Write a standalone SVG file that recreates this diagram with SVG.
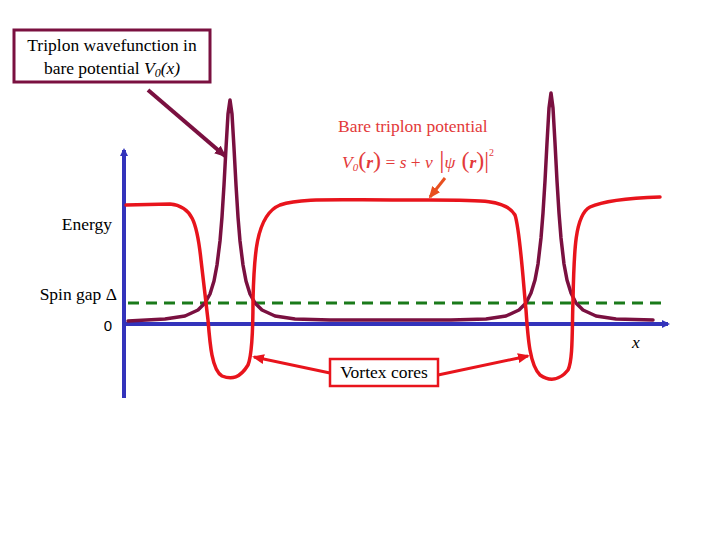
<svg xmlns="http://www.w3.org/2000/svg" width="720" height="540" viewBox="0 0 720 540">
<defs>
<style>
.t{font-family:"Liberation Serif",serif;font-size:17.5px}
.c{fill:none;stroke-width:3.5;stroke-linejoin:round;stroke-linecap:round}
</style>
<marker id="ab" markerWidth="8" markerHeight="8" refX="6" refY="4" orient="auto" markerUnits="userSpaceOnUse"><path d="M0,0 L8,4 L0,8z" fill="#3333bb"/></marker>
<marker id="ar" markerWidth="12" markerHeight="10" refX="10" refY="5" orient="auto" markerUnits="userSpaceOnUse"><path d="M0,0 L12,5 L0,10z" fill="#e8141c"/></marker>
<marker id="ap" markerWidth="12" markerHeight="10" refX="10" refY="5" orient="auto" markerUnits="userSpaceOnUse"><path d="M0,0 L12,5 L0,10z" fill="#7a1040"/></marker>
<marker id="ao" markerWidth="12" markerHeight="10" refX="10" refY="5" orient="auto" markerUnits="userSpaceOnUse"><path d="M0,0 L12,5 L0,10z" fill="#e85020"/></marker>
</defs>
<rect width="720" height="540" fill="#fff"/>
<g id="connectors">
<line x1="124" y1="398" x2="124" y2="150" stroke="#3333bb" stroke-width="4" marker-end="url(#ab)"/>
<line x1="124" y1="324" x2="668" y2="324" stroke="#3333bb" stroke-width="4" marker-end="url(#ab)"/>
<line x1="128" y1="303" x2="665" y2="303" stroke="#1a7a1a" stroke-width="3" stroke-dasharray="11,7"/>
<polyline class="c" stroke="#7a1040" points="128,321 165,319 185,316 198,310 205,303 210,294 214,281 217,265 220,241 222,217 224,185 226,148 228,114 230,100 232,114 234,148 236,185 238,217 240,241 243,265 246,281 250,294 255,303 262,310 275,316 295,319 330,320 451,320 486,319 506,316 519,310 526,303 531,293 535,280 538,264 541,238 543,213 545,181 547,143 549,108 551,93 553,108 555,143 557,181 559,213 561,238 564,264 567,280 571,293 576,303 583,310 596,316 616,319 653,320"/>
<path class="c" stroke="#e8141c" d="M126,205 L170,204 C192,206 197,222 201,260 L208,320 C210,345 212,370 222,376 C232,380 240,378 248,365 C252,355 253,320 253,300 C254,260 255,215 280,205 C300,198 330,200 400,200 C480,200 505,198 515,215 C520,230 523,280 526,310 C528,340 530,365 540,375 C550,382 560,380 568,370 C573,360 572,330 573,300 C574,250 575,215 590,207 C605,200 630,198 660,197"/>
<line x1="148" y1="90" x2="225" y2="156" stroke="#7a1040" stroke-width="4" marker-end="url(#ap)"/>
<line x1="330" y1="373" x2="254" y2="357" stroke="#e8141c" stroke-width="3" marker-end="url(#ar)"/>
<line x1="438" y1="375" x2="528" y2="356" stroke="#e8141c" stroke-width="3" marker-end="url(#ar)"/>
<line x1="445" y1="178" x2="430" y2="197" stroke="#e85020" stroke-width="3" marker-end="url(#ao)"/>
</g>
<g id="wavebox">
<rect x="14" y="30" width="196" height="52" fill="#fff" stroke="#7a1040" stroke-width="3"/>
<text class="t" x="112" y="51" text-anchor="middle" font-size="18">Triplon wavefunction in</text>
<text class="t" x="112" y="74" text-anchor="middle" font-size="18">bare potential <tspan font-style="italic">V</tspan><tspan font-style="italic" font-size="12" dy="3">0</tspan><tspan font-style="italic" dy="-3">(x)</tspan></text>
</g>
<g id="potential-label" fill="#e33a3a">
<text class="t" x="338" y="132" font-size="18.5">Bare triplon potential</text>
<text class="t" x="342" y="168" font-style="italic" font-size="18">V<tspan font-size="11" dy="3">0</tspan><tspan dy="-3" font-style="normal" font-size="24">(</tspan><tspan font-weight="bold">r</tspan><tspan font-style="normal" font-size="24">)</tspan><tspan font-style="normal"> = </tspan>s<tspan font-style="normal"> + </tspan>v<tspan font-style="normal" font-size="26"> |</tspan>ψ<tspan font-style="normal" font-size="24"> (</tspan><tspan font-weight="bold">r</tspan><tspan font-style="normal" font-size="24">)|</tspan><tspan font-style="normal" font-size="10" dy="-12">2</tspan></text>
</g>
<g id="axis-labels">
<text class="t" x="112" y="230" text-anchor="end" font-size="18.5">Energy</text>
<text class="t" x="117" y="300" text-anchor="end" font-size="18">Spin gap Δ</text>
<text x="108" y="331" text-anchor="middle" font-family="Liberation Sans,sans-serif" font-size="15">0</text>
<text class="t" x="632" y="348" font-style="italic" font-size="16">x</text>
</g>
<g id="vortex">
<rect x="330" y="359" width="108" height="27" fill="#fff" stroke="#e8141c" stroke-width="2.5"/>
<text class="t" x="384" y="378" text-anchor="middle" font-size="16.5">Vortex cores</text>
</g>
</svg>
